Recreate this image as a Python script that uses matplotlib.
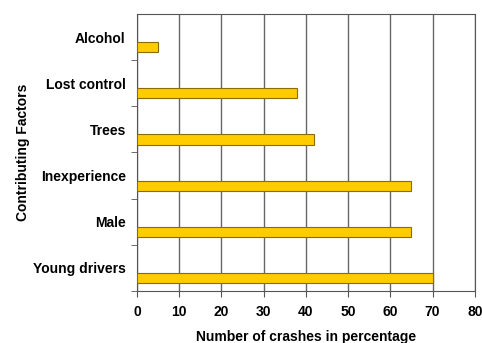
import numpy as np
import matplotlib.pyplot as plt

plt.rcParams['font.family'] = 'Liberation Sans'
plt.rcParams['font.weight'] = 'bold'

factors = ['Young drivers', 'Male', 'Inexperience', 'Trees', 'Lost control', 'Alcohol']
percent = [70, 65, 65, 42, 38, 5]

fig = plt.figure(figsize=(4.82, 3.43), dpi=100)
ax = fig.add_axes([0.284, 0.152, 0.701, 0.807])

pos = np.arange(len(factors))
ax.barh(pos - 0.22, percent, height=0.22, color='#FFCC00',
        edgecolor='#8a6d00', linewidth=0.8, zorder=3)

ax.set_xlim(0, 80)
ax.set_ylim(-0.5, len(factors) - 0.5)
ax.set_xticks(range(0, 81, 10))
ax.grid(axis='x', color='#666666', linewidth=1, zorder=0)

ax.set_yticks(pos)
ax.set_yticklabels(factors, fontsize=10, fontweight='bold')
ax.tick_params(axis='y', which='major', length=0, pad=8)
ax.set_yticks(pos - 0.5, minor=True)
ax.tick_params(axis='y', which='minor', length=4, color='#555555')
ax.tick_params(axis='x', length=4, color='#555555', labelsize=10, pad=6)

for s in ax.spines.values():
    s.set_color('#555555')

ax.set_xlabel('Number of crashes in percentage', fontsize=10, fontweight='bold', labelpad=8)
ax.set_ylabel('Contributing Factors', fontsize=10, fontweight='bold', labelpad=2)

fig.savefig('out.png')
